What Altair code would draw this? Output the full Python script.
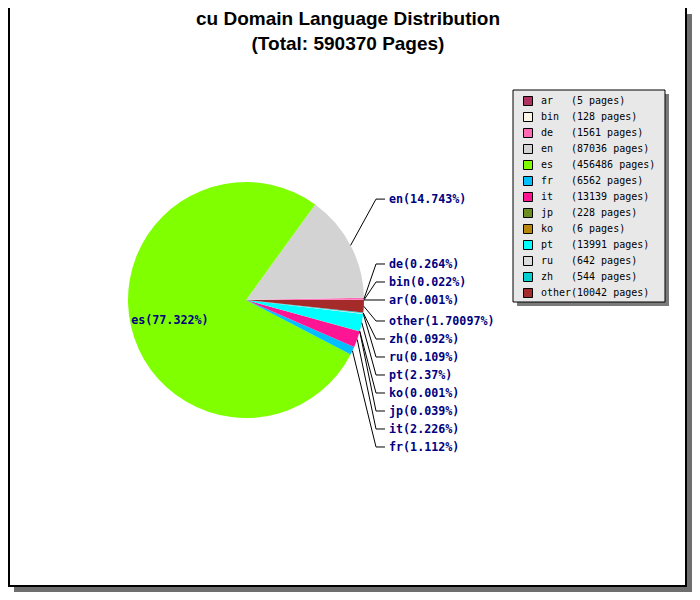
import math
import altair as alt
import pandas as pd

# ---------------- data ----------------
langs = ["ar", "bin", "de", "en", "es", "fr", "it", "jp", "ko", "pt", "ru", "zh", "other"]
pages = [5, 128, 1561, 87036, 456486, 6562, 13139, 228, 6, 13991, 642, 544, 10042]
pct_labels = ["0.001%", "0.022%", "0.264%", "14.743%", "77.322%", "1.112%", "2.226%",
              "0.039%", "0.001%", "2.37%", "0.109%", "0.092%", "1.70097%"]
colors = ["#b03060", "#fdf5e6", "#ff69b4", "#d3d3d3", "#7fff00", "#00bfff", "#ff1493",
          "#6b8e23", "#b8860b", "#00ffff", "#dcdcdc", "#00ced1", "#a52a2a"]
domain_name = "cu"

# ---------------- layout (canvas pixels) ----------------
W, H = 684, 584
CX, CY, R = 238, 292, 118
LABEL_R = 218
ELBOW_X, END_X, TEXT_X = 368, 377, 381
STEP = 18
LEG_X0, LEG_Y0, LEG_X1, LEG_Y1 = 505, 82, 657, 294
SW_X, ROW0, ROW_STEP = 520, 93, 16
NAME_X, COUNT_X = 533, 563

total = sum(pages)
title_lines = [f"{domain_name} Domain Language Distribution", f"(Total: {total} Pages)"]

# ---------------- derived tables ----------------
pie_df = pd.DataFrame({"lang": langs, "pages": pages, "ord": [len(langs) - i for i in range(len(langs))]})

mids = []
cum = 0
for p in pages:
    mids.append(2 * math.pi * (cum + p / 2) / total)
    cum += p

right = [i for i in range(len(langs)) if math.cos(mids[i]) >= 0]
upper = sorted([i for i in right if math.sin(mids[i]) >= 0], key=lambda i: mids[i])
lower = sorted([i for i in right if math.sin(mids[i]) < 0], key=lambda i: -mids[i])

label_y = {}
prev = None
for i in upper:
    d = CY - LABEL_R * math.sin(mids[i])
    y = d if prev is None else min(d, prev - STEP)
    label_y[i] = y
    prev = y
first_upper = label_y[upper[0]]
prev = None
for i in lower:
    d = CY - LABEL_R * math.sin(mids[i])
    y = max(d, first_upper + 21) if prev is None else max(d, prev + STEP)
    label_y[i] = y
    prev = y

line_rows, text_rows = [], []
for i in range(len(langs)):
    ex = CX + R * math.cos(mids[i])
    ey = CY - R * math.sin(mids[i])
    txt = f"{langs[i]}({pct_labels[i]})"
    if i in label_y:
        y = label_y[i]
        line_rows += [
            {"lang": langs[i], "seq": 0, "x": ex, "y": ey},
            {"lang": langs[i], "seq": 1, "x": ELBOW_X, "y": y},
            {"lang": langs[i], "seq": 2, "x": END_X, "y": y},
        ]
        text_rows.append({"t": txt, "x": TEXT_X, "y": y, "inside": 0})
    else:
        text_rows.append({"t": txt, "x": ex, "y": ey - 7, "inside": 1})
line_df = pd.DataFrame(line_rows)
text_df = pd.DataFrame(text_rows)

leg_df = pd.DataFrame({
    "lang": langs,
    "name": langs,
    "count": [f"({p} pages)" for p in pages],
    "y": [ROW0 + ROW_STEP * i for i in range(len(langs))],
})
title_df = pd.DataFrame({"t": title_lines, "x": [340, 340], "y": [17, 42]})

xs = alt.Scale(domain=[0, W], range=[0, W])
ys = alt.Scale(domain=[0, H], range=[0, H])
X = lambda f: alt.X(f, type="quantitative", scale=xs, axis=None)
Y = lambda f: alt.Y(f, type="quantitative", scale=ys, axis=None)
color_scale = alt.Scale(domain=langs, range=colors)

one = pd.DataFrame({"a": [0]})

frame_shadow = alt.Chart(one).mark_rect(fill="#6e6e6e").encode(
    x=alt.value(6), x2=alt.value(684), y=alt.value(6), y2=alt.value(584))
frame = alt.Chart(one).mark_rect(fill="white", stroke="black", strokeWidth=2).encode(
    x=alt.value(1), x2=alt.value(678), y=alt.value(-4), y2=alt.value(578))

pie = alt.Chart(pie_df).mark_arc(radius=R).encode(
    theta=alt.Theta("pages:Q", stack=True,
                    scale=alt.Scale(range=[math.pi / 2, math.pi / 2 + 2 * math.pi])),
    order=alt.Order("ord:Q", sort="ascending"),
    color=alt.Color("lang:N", scale=color_scale, legend=None),
    x=alt.value(CX), y=alt.value(CY),
)

leaders = alt.Chart(line_df).mark_line(color="black", strokeWidth=1).encode(
    x=X("x"), y=Y("y"), detail="lang:N", order="seq:Q")

pie_text = alt.Chart(text_df).mark_text(
    align="left", baseline="middle", font="DejaVu Sans Mono", fontWeight="bold",
    fontSize=11.7, color="#000080").encode(x=X("x"), y=Y("y"), text="t:N")

leg_shadow = alt.Chart(one).mark_rect(fill="#7a7a7a").encode(
    x=alt.value(LEG_X0 + 4), x2=alt.value(LEG_X1 + 4), y=alt.value(LEG_Y0 + 4), y2=alt.value(LEG_Y1 + 4))
leg_box = alt.Chart(one).mark_rect(fill="#e8e8e8", stroke="black", strokeWidth=1).encode(
    x=alt.value(LEG_X0), x2=alt.value(LEG_X1), y=alt.value(LEG_Y0), y2=alt.value(LEG_Y1))

swatches = alt.Chart(leg_df).mark_square(size=81, opacity=1, stroke="black", strokeWidth=1).encode(
    x=alt.value(SW_X), y=Y("y"),
    color=alt.Color("lang:N", scale=color_scale, legend=None))
leg_names = alt.Chart(leg_df).mark_text(
    align="left", baseline="middle", font="DejaVu Sans Mono", fontSize=10, color="black").encode(
    x=alt.value(NAME_X), y=Y("y"), text="name:N")
leg_counts = alt.Chart(leg_df).mark_text(
    align="left", baseline="middle", font="DejaVu Sans Mono", fontSize=10, color="black").encode(
    x=alt.value(COUNT_X), y=Y("y"), text="count:N")

title = alt.Chart(title_df).mark_text(
    align="center", baseline="alphabetic", font="Liberation Sans", fontWeight="bold",
    fontSize=19, color="black").encode(x=X("x"), y=Y("y"), text="t:N")

chart = alt.layer(
    frame_shadow, frame, pie, leaders, pie_text, leg_shadow, leg_box,
    swatches, leg_names, leg_counts, title
).properties(
    width=W, height=H, padding=0, autosize=alt.AutoSizeParams(type="none")
).configure_view(stroke=None)

chart.save("out.html", embed_options={"renderer": "svg", "actions": False})
